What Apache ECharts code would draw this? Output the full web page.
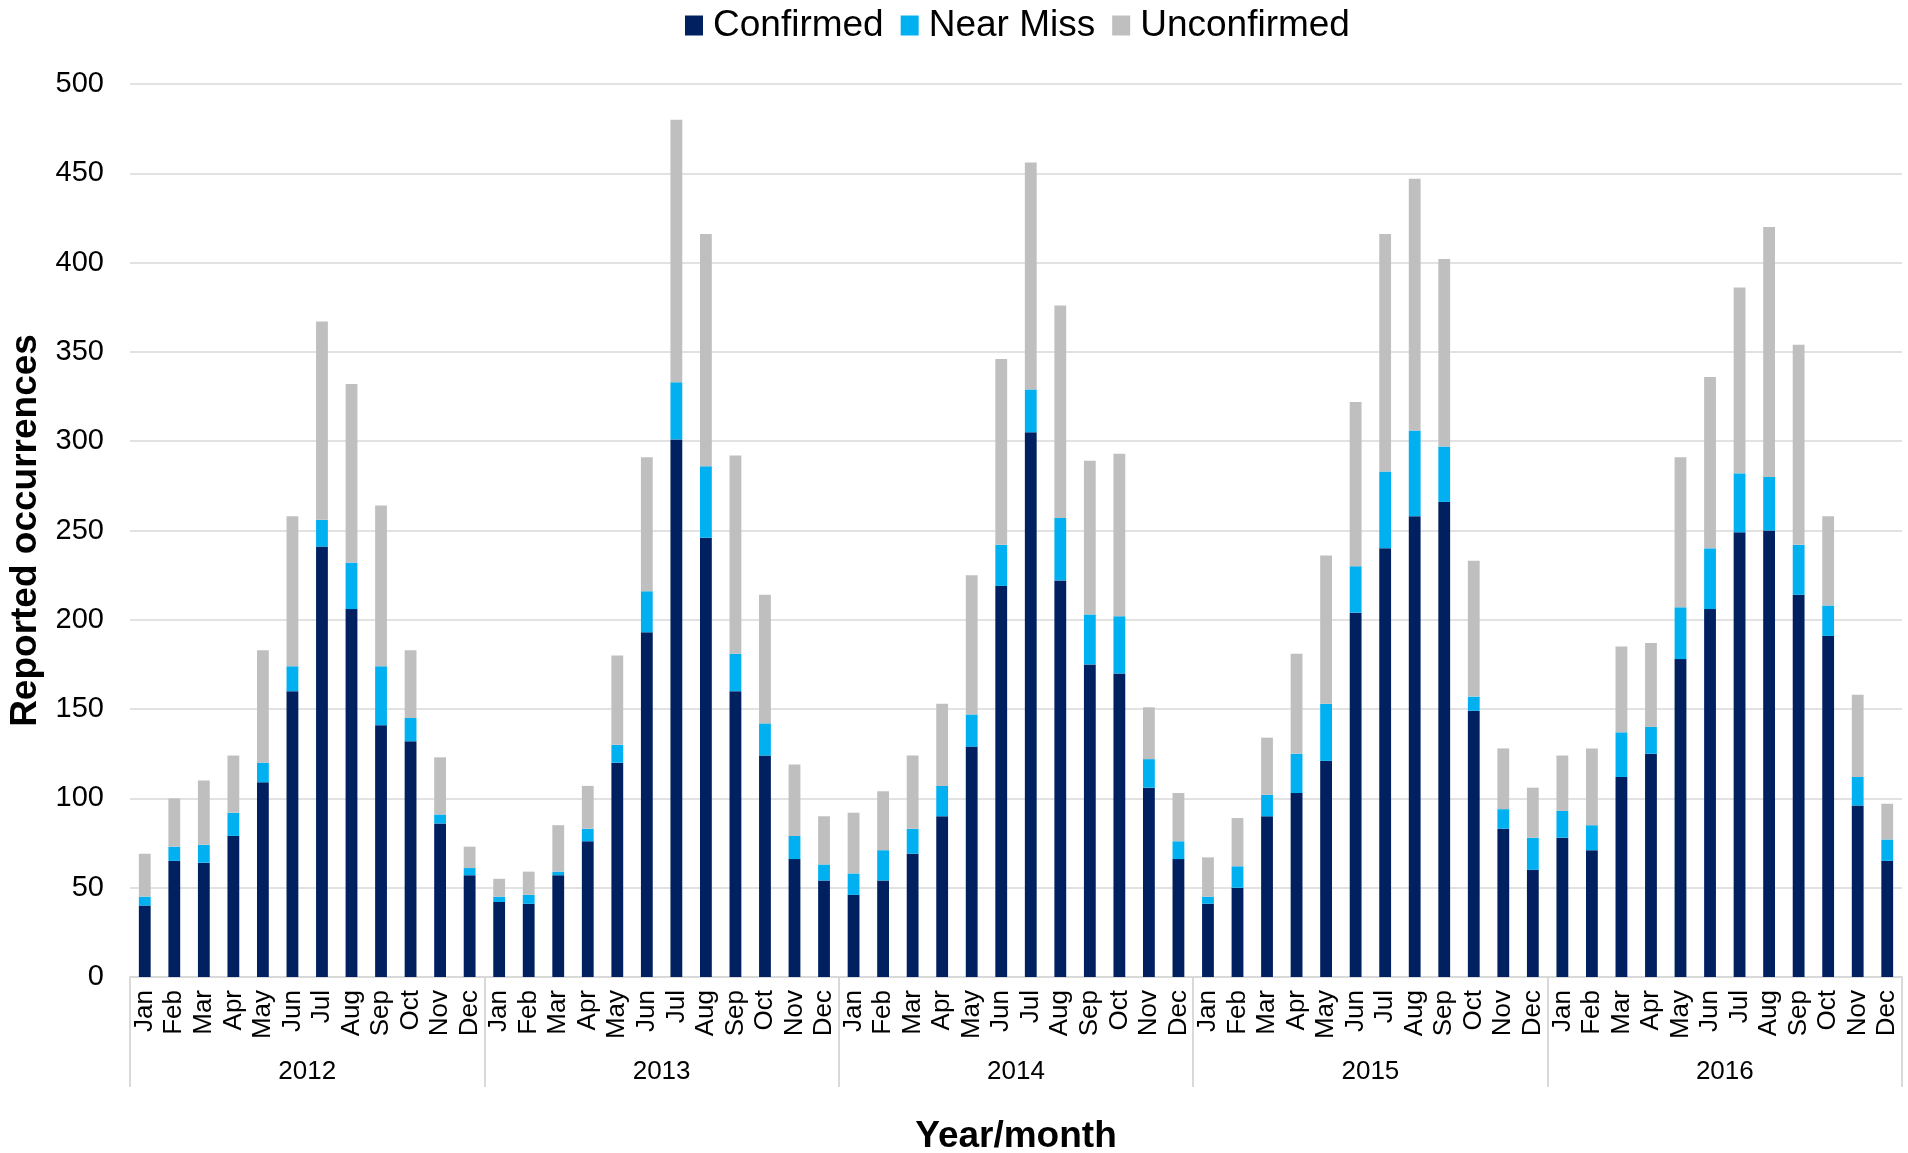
<!DOCTYPE html>
<html>
<head>
<meta charset="utf-8">
<script src="https://cdn.jsdelivr.net/npm/echarts@6/dist/echarts.min.js"></script>
<style>
html,body{margin:0;padding:0;background:#fff;}
#c{width:1908px;height:1153px;}
</style>
</head>
<body>
<div id="c"></div>
<script>
const years = ['2012','2013','2014','2015','2016'];
const monthNames = ['Jan','Feb','Mar','Apr','May','Jun','Jul','Aug','Sep','Oct','Nov','Dec'];
const yTicks = [0,50,100,150,200,250,300,350,400,450,500];

// Confirmed (per month, 2012..2016)
const confirmed2012 = [40,65,64,79,109,160,241,206,141,132,86,57];
const confirmed2013 = [42,41,57,76,120,193,301,246,160,124,66,54];
const confirmed2014 = [46,54,69,90,129,219,305,222,175,170,106,66];
const confirmed2015 = [41,50,90,103,121,204,240,258,266,149,83,60];
const confirmed2016 = [78,71,112,125,178,206,249,250,214,191,96,65];

// Near Miss
const nearMiss2012 = [5,8,10,13,11,14,15,26,33,13,5,4];
const nearMiss2013 = [3,5,2,7,10,23,32,40,21,18,13,9];
const nearMiss2014 = [12,17,14,17,18,23,24,35,28,32,16,10];
const nearMiss2015 = [4,12,12,22,32,26,43,48,31,8,11,18];
const nearMiss2016 = [15,14,25,15,29,34,33,30,28,17,16,12];

// Unconfirmed
const unconfirmed2012 = [24,27,36,32,63,84,111,100,90,38,32,12];
const unconfirmed2013 = [10,13,26,24,50,75,147,130,111,72,40,27];
const unconfirmed2014 = [34,33,41,46,78,104,127,119,86,91,29,27];
const unconfirmed2015 = [22,27,32,56,83,92,133,141,105,76,34,28];
const unconfirmed2016 = [31,43,48,47,84,96,104,140,112,50,46,20];

const months = [];
years.forEach(() => monthNames.forEach(m => months.push(m)));
const confirmed = [].concat(confirmed2012, confirmed2013, confirmed2014, confirmed2015, confirmed2016);
const nearMiss = [].concat(nearMiss2012, nearMiss2013, nearMiss2014, nearMiss2015, nearMiss2016);
const unconfirmed = [].concat(unconfirmed2012, unconfirmed2013, unconfirmed2014, unconfirmed2015, unconfirmed2016);

const FONT = '"Liberation Sans", Arial, sans-serif';
const GRIDC = '#d9d9d9';

const chart = echarts.init(document.getElementById('c'), null, {renderer:'canvas'});
chart.setOption({
  animation: false,
  textStyle: {fontFamily: FONT},
  legend: {
    top: 2,
    left: 680,
    itemWidth: 18,
    itemHeight: 20,
    itemGap: 17,
    icon: 'rect',
    textStyle: {fontSize: 37, color: '#000', fontFamily: FONT, padding: [0,0,0,5]},
    data: ['Confirmed','Near Miss','Unconfirmed']
  },
  grid: {left: 130, right: 6, top: 84, bottom: 176, containLabel: false, outerBoundsMode: 'none'},
  xAxis: [
    {
      type: 'category',
      data: months,
      position: 'bottom',
      axisLine: {show: true, lineStyle: {color: GRIDC, width: 2}},
      axisTick: {show: false},
      axisLabel: {interval: 0, rotate: 90, fontSize: 26, color: '#000', margin: 13, fontFamily: FONT},
      name: 'Year/month',
      nameLocation: 'middle',
      nameGap: 141,
      nameTextStyle: {fontSize: 37, fontWeight: 'bold', color: '#000', fontFamily: FONT}
    },
    {
      type: 'category',
      data: years,
      position: 'bottom',
      offset: 110,
      axisLine: {show: false},
      axisTick: {show: true, inside: true, length: 110, lineStyle: {color: GRIDC, width: 2}},
      axisLabel: {inside: true, margin: 2, fontSize: 26, color: '#000', fontFamily: FONT},
      splitLine: {show: false}
    }
  ],
  yAxis: {
    type: 'value',
    min: 0,
    max: 500,
    interval: 50,
    axisLine: {show: false},
    axisTick: {show: false},
    axisLabel: {fontSize: 29, color: '#000', margin: 26, fontFamily: FONT,
      formatter: v => yTicks.includes(v) ? String(v) : ''},
    splitLine: {show: true, lineStyle: {color: GRIDC, width: 1.5}},
    name: 'Reported occurrences',
    nameLocation: 'middle',
    nameRotate: 90,
    nameGap: 83,
    nameTextStyle: {fontSize: 37, fontWeight: 'bold', color: '#000', fontFamily: FONT}
  },
  series: [
    {name: 'Confirmed', type: 'bar', stack: 'a', barWidth: '40%', xAxisIndex: 0,
     itemStyle: {color: '#002060'}, data: confirmed},
    {name: 'Near Miss', type: 'bar', stack: 'a', barWidth: '40%', xAxisIndex: 0,
     itemStyle: {color: '#00B0F0'}, data: nearMiss},
    {name: 'Unconfirmed', type: 'bar', stack: 'a', barWidth: '40%', xAxisIndex: 0,
     itemStyle: {color: '#BFBFBF'}, data: unconfirmed}
  ]
});
</script>
</body>
</html>
